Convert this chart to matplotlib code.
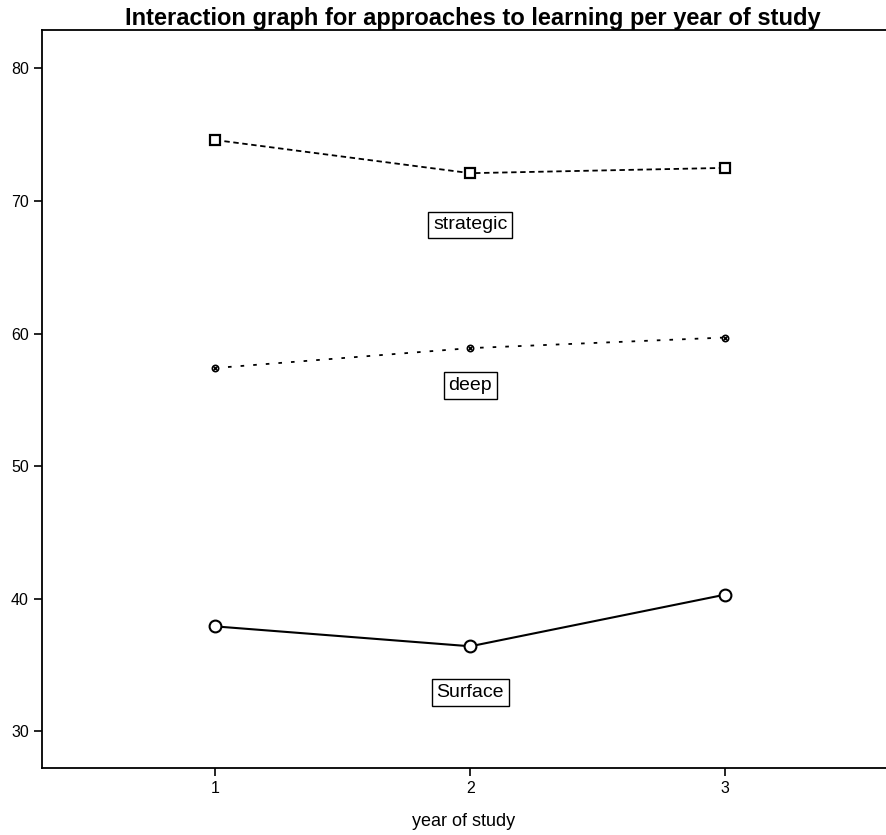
import matplotlib.pyplot as plt

# data
years = [1, 2, 3]
strategic = [74.6, 72.1, 72.5]
deep = [57.4, 58.9, 59.7]
surface = [37.9, 36.4, 40.3]

label_names = ["strategic", "deep", "Surface"]
label_y = [68.2, 56.1, 32.9]

plt.rcParams["font.family"] = ["Liberation Sans", "DejaVu Sans"]

fig = plt.figure(figsize=(8.86, 8.35), dpi=100)
ax = fig.add_axes([0.0474, 0.080, 0.9526, 0.884])

ax.plot(years, strategic, color="black", lw=1.3, ls=(0, (3, 2)),
        marker="s", ms=7.5, mfc="white", mec="black", mew=1.6)
ax.plot(years, deep, color="black", lw=1.3, ls=(0, (2, 5)),
        marker="o", ms=4.5, mfc="white", mec="black", mew=1.2)
ax.plot(years, deep, color="none", ls="none",
        marker="x", ms=3.5, mec="black", mew=1.0)
ax.plot(years, surface, color="black", lw=1.5, ls="-",
        marker="o", ms=8.5, mfc="white", mec="black", mew=1.5)

for name, y in zip(label_names, label_y):
    ax.text(2, y, name, ha="center", va="center", fontsize=14,
            bbox=dict(boxstyle="square,pad=0.25", fc="white", ec="black", lw=1))

ax.set_xlim(0.32, 3.63)
ax.set_ylim(27.2, 82.9)
ax.set_xticks(years)
ax.set_yticks([30, 40, 50, 60, 70, 80])
ax.tick_params(direction="out", length=6, width=1.2, labelsize=11.5, colors="black")
for s in ["left", "bottom", "top"]:
    ax.spines[s].set_linewidth(1.3)
ax.spines["right"].set_visible(False)

ax.set_xlabel("year of study", fontsize=13, labelpad=12)
ax.set_title("Interaction graph for approaches to learning per year of study",
             fontsize=17, fontweight="bold", pad=-1, x=0.51)

fig.savefig("out.png", dpi=100)
